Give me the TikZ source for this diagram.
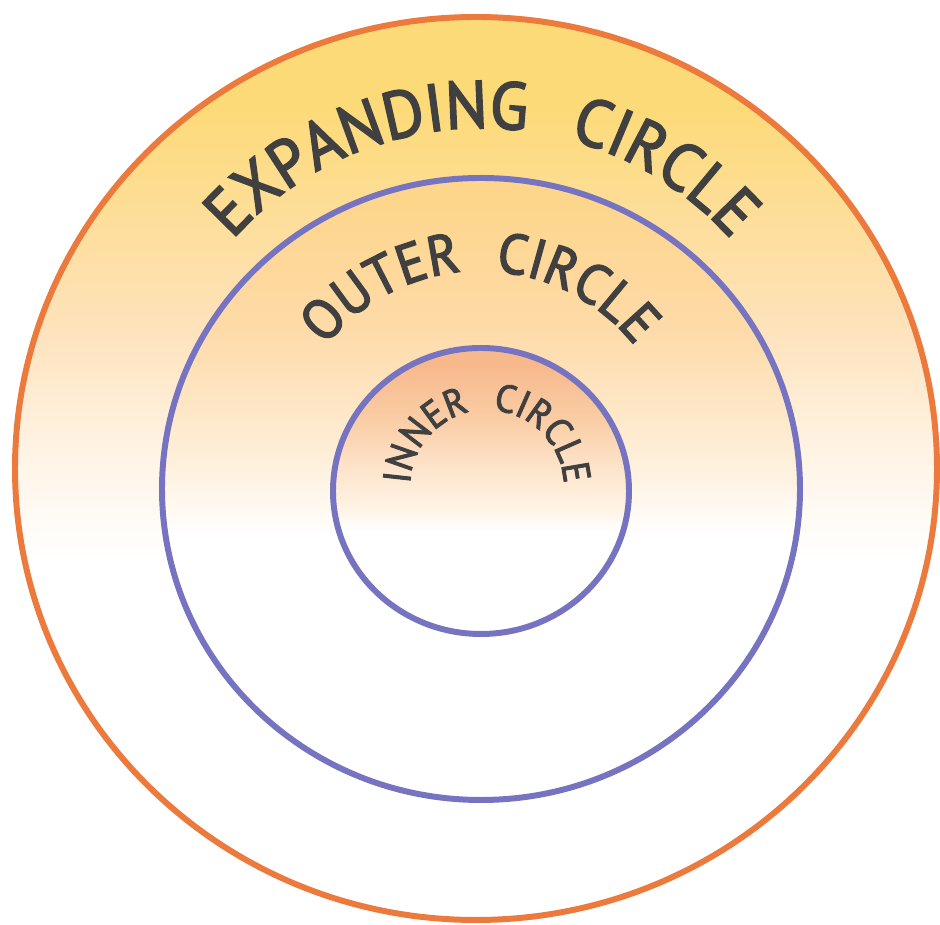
\documentclass[tikz,border=0pt]{standalone}
\usepackage{fontspec}
\setmainfont{PT Sans}
\newfontfamily\labelfamily{PT Sans}[FakeBold=2.6, FakeStretch=0.94]
\usetikzlibrary{decorations.text}

\definecolor{ringorange}{RGB}{236,122,60}
\definecolor{ringblue}{RGB}{118,116,192}
\definecolor{labelgray}{RGB}{64,64,64}
\definecolor{glowgold}{RGB}{253,218,120}
\definecolor{glowpeach}{RGB}{254,226,186}
\definecolor{glowpale}{RGB}{255,243,228}
\definecolor{midtop}{RGB}{253,214,140}
\definecolor{midpeach}{RGB}{254,218,168}
\definecolor{midpale}{RGB}{254,238,215}
\definecolor{coretop}{RGB}{247,185,140}
\definecolor{corepeach}{RGB}{250,206,167}
\definecolor{corepale}{RGB}{253,228,203}

\pgfdeclareverticalshading{expandglow}{100bp}{color(0bp)=(white); color(45bp)=(white); color(51bp)=(glowpale); color(58bp)=(glowpeach); color(70bp)=(glowgold); color(100bp)=(glowgold)}
\pgfdeclareverticalshading{outerglow}{100bp}{color(0bp)=(white); color(46bp)=(white); color(53bp)=(midpale); color(63bp)=(midpeach); color(73bp)=(midtop); color(100bp)=(midtop)}
\pgfdeclareverticalshading{innerglow}{100bp}{color(0bp)=(white); color(43bp)=(white); color(47bp)=(glowpale); color(54bp)=(corepale); color(62bp)=(corepeach); color(72bp)=(coretop); color(100bp)=(coretop)}

\newcommand\expandfont{\labelfamily\fontsize{38}{42}\selectfont}
\newcommand\outerfont{\labelfamily\fontsize{32}{36}\selectfont}
\newcommand\innerfont{\labelfamily\fontsize{22}{26}\selectfont}

\begin{document}
\begin{tikzpicture}[x=0.02cm, y=0.02cm]
      \tikzstyle{ring} = [line width=3.4pt]
      \tikzstyle{label} = [decorate, decoration={text along path, text align=center, text color=labelgray}]

      \useasboundingbox (0,0) rectangle (940,925);

      % the three rings
      \shade[ring, shading=expandglow, draw=ringorange] (476,456.5) ellipse [x radius=461, y radius=451.5];
      \shade[ring, shading=outerglow, draw=ringblue] (481,436) ellipse [x radius=319, y radius=311];
      \shade[ring, shading=innerglow, draw=ringblue] (481,434) ellipse [x radius=148, y radius=143];

      % curved labels
      \path[label, decoration={text={|\expandfont|EXPANDING{\hskip0.65em}CIRCLE}}]
            (482,463) ++(210:334) arc [start angle=210, end angle=-30, radius=334];
      \path[label, decoration={text={|\outerfont|OUTER{\hskip0.6em}CIRCLE}}]
            (480,457) ++(210:197) arc [start angle=210, end angle=-30, radius=197];
      \path[label, decoration={text={|\innerfont|INNER{\hskip0.6em}CIRCLE}}]
            (487,438) ++(210:77) arc [start angle=210, end angle=-30, radius=77];
\end{tikzpicture}
\end{document}
